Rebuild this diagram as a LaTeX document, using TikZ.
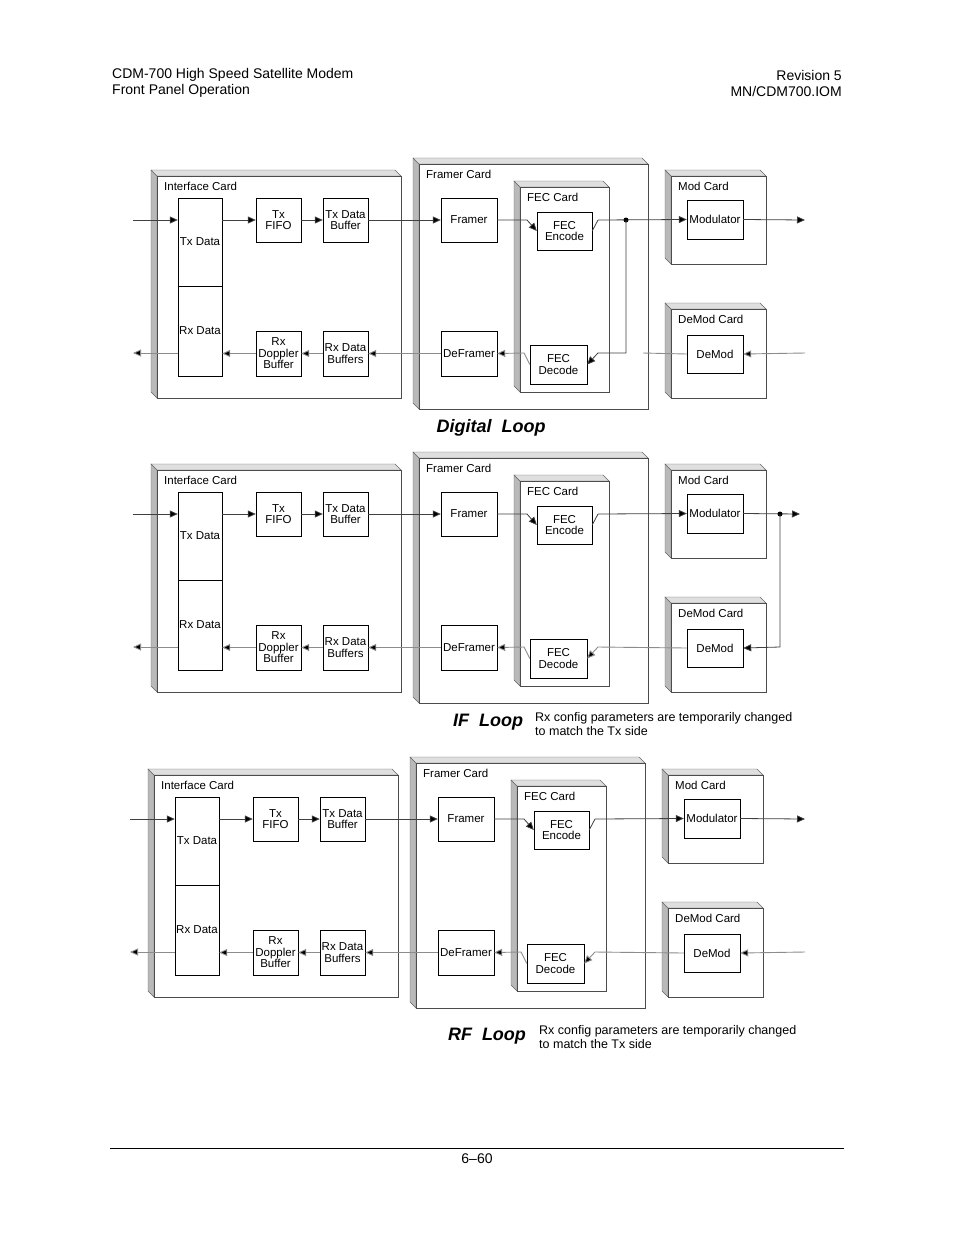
\documentclass[tikz,border=0pt]{standalone}
\usepackage{fontspec}
\setmainfont{Liberation Sans}
\usetikzlibrary{arrows.meta}
\tikzset{
 bx/.style={draw,fill=white,inner sep=0pt,align=center,font=\fontsize{11.5}{11.5}\selectfont},
 lbl/.style={anchor=west,inner sep=0pt,font=\fontsize{11.5}{12}\selectfont},
 ar/.style={-{Triangle[length=8pt,width=7pt,fill=black]}},
 ln/.style={draw=black!75,line width=0.8pt},
 rl/.style={draw=black!45,line width=0.9pt},
}
\newcommand\card[5]{%
 \fill[gray!55,draw=black!60] (#1-6,#2-6)--(#1,#2)--(#1,#4)--(#1-6,#4-6)--cycle;
 \fill[gray!25,draw=black!60] (#1-6,#2-6)--(#3-6,#2-6)--(#3,#2)--(#1,#2)--cycle;
 \draw[black!70,fill=white,line width=0.8pt] (#1,#2) rectangle (#3,#4);
 \node[lbl] at (#1+7,#2+10) {#5};}
\newcommand\bxn[6]{\node[bx,minimum width={(#4-#2)*1pt},minimum height={(#5-#3)*1pt}] (#1) at ({(#2+#4)/2},{(#3+#5)/2}) {#6};}
\newcommand\diag[1]{%
 \card{157}{176}{401}{398}{Interface Card}
 \card{419}{164}{648}{409}{Framer Card}
 \card{520}{187}{609}{392}{FEC Card}
 \card{671}{176}{766}{264}{Mod Card}
 \card{671}{309}{766}{398}{DeMod Card}
 \bxn{#1txd}{178}{198}{222}{286}{Tx Data}
 \bxn{#1rxd}{178}{286}{222}{376}{Rx Data}
 \bxn{#1fifo}{256}{198}{301}{242}{Tx\\FIFO}
 \bxn{#1txb}{323}{198}{368}{242}{Tx Data\\Buffer}
 \bxn{#1dop}{256}{331}{301}{376}{Rx\\Doppler\\Buffer}
 \bxn{#1rxb}{323}{331}{368}{376}{Rx Data\\Buffers}
 \bxn{#1fr}{441}{198}{497}{242}{Framer}
 \bxn{#1dfr}{441}{331}{497}{376}{DeFramer}
 \bxn{#1enc}{537}{212}{592}{250}{FEC\\Encode}
 \bxn{#1dec}{530}{345}{587}{384}{FEC\\Decode}
 \bxn{#1mod}{687}{200}{743}{239}{Modulator}
 \bxn{#1dem}{687}{335}{743}{373}{DeMod}
 \coordinate (#1in) at (133,220);
 \coordinate (#1out) at (133,353);
 \draw[ln,ar] (#1in) -- (#1txd.west|-#1in);
 \draw[ln,ar] (#1txd.east|-#1fifo) -- (#1fifo);
 \draw[ln,ar] (#1fifo) -- (#1txb);
 \draw[ln,ar] (#1txb) -- (#1fr);
 \draw[ln,ar] (#1fr.east) -- (527,220) -- (#1enc.west);
 \draw[ln] (#1enc.east) -- (598,220);
 \draw[rl,ar] (#1dfr.west) -- (#1rxb.east);
 \draw[rl,ar] (#1rxb.west) -- (#1dop.east);
 \draw[rl,ar] (#1dop.west) -- (#1rxd.east|-#1dop);
 \draw[rl,ar] (#1rxd.west|-#1out) -- (#1out);
 \draw[rl,ar] (#1dec.west) -- (524,353) -- (#1dfr.east);
}
\begin{document}
\begin{tikzpicture}[x=1pt,y=-1pt]
\useasboundingbox (0,0) rectangle (954,1235);
\node[anchor=west,inner sep=0pt,font=\fontsize{14}{15}\selectfont] at (112,75) {CDM-700 High Speed Satellite Modem};
\node[anchor=west,inner sep=0pt,font=\fontsize{14}{15}\selectfont] at (112,91) {Front Panel Operation};
\node[anchor=east,inner sep=0pt,font=\fontsize{14}{15}\selectfont] at (842,75) {Revision 5};
\node[anchor=east,inner sep=0pt,font=\fontsize{14}{15}\selectfont] at (842,91) {MN/CDM700.IOM};
\draw[line width=0.8pt] (110,1148) -- (844,1148);
\node[inner sep=0pt,font=\fontsize{14}{15}\selectfont] at (477,1159) {6–60};
% Digital loop
\begin{scope}
\diag{a}
\draw[ln,ar] (598,220) -- (amod.west);
\fill (626,220) circle (2.5);
\draw[ln,ar] (626,220) -- (626,353) -- (598,353) -- (adec.east);
\coordinate (amo) at (805,220); \coordinate (adi) at (805,353);
\draw[ln,ar] (amod.east) -- (amo);
\draw[rl,ar] (adi) -- (adem.east);
\draw[rl] (adem.west) -- (643,353);
\node[font=\fontsize{18}{20}\selectfont\bfseries\itshape] at (491,428) {Digital\ \ Loop};
\end{scope}
% IF loop
\begin{scope}[yshift=-294pt]
\diag{b}
\draw[ln,ar] (598,220) -- (bmod.west);
\coordinate (bmo) at (800,220);
\draw[ln,ar] (bmod.east) -- (bmo);
\fill (780,220) circle (2.5);
\draw[ln,ar] (780,220) -- (780,353) -- (bdem.east);
\draw[rl,ar] (bdem.west) -- (598,353) -- (bdec.east);
\node[font=\fontsize{18}{20}\selectfont\bfseries\itshape] at (488,428) {IF\ \ Loop};
\node[anchor=west,inner sep=0pt,align=left,font=\fontsize{12.5}{14}\selectfont] at (535,430) {Rx config parameters are temporarily changed\\to match the Tx side};
\end{scope}
% RF loop
\begin{scope}[yshift=-599pt,xshift=-3pt]
\diag{c}
\draw[ln,ar] (598,220) -- (cmod.west);
\coordinate (cmo) at (808,220); \coordinate (cdi) at (808,353);
\draw[ln,ar] (cmod.east) -- (cmo);
\draw[rl,ar] (cdi) -- (cdem.east);
\draw[rl,ar] (cdem.west) -- (598,353) -- (cdec.east);
\node[font=\fontsize{18}{20}\selectfont\bfseries\itshape] at (490,437) {RF\ \ Loop};
\node[anchor=west,inner sep=0pt,align=left,font=\fontsize{12.5}{14}\selectfont] at (542,438) {Rx config parameters are temporarily changed\\to match the Tx side};
\end{scope}
\end{tikzpicture}
\end{document}
